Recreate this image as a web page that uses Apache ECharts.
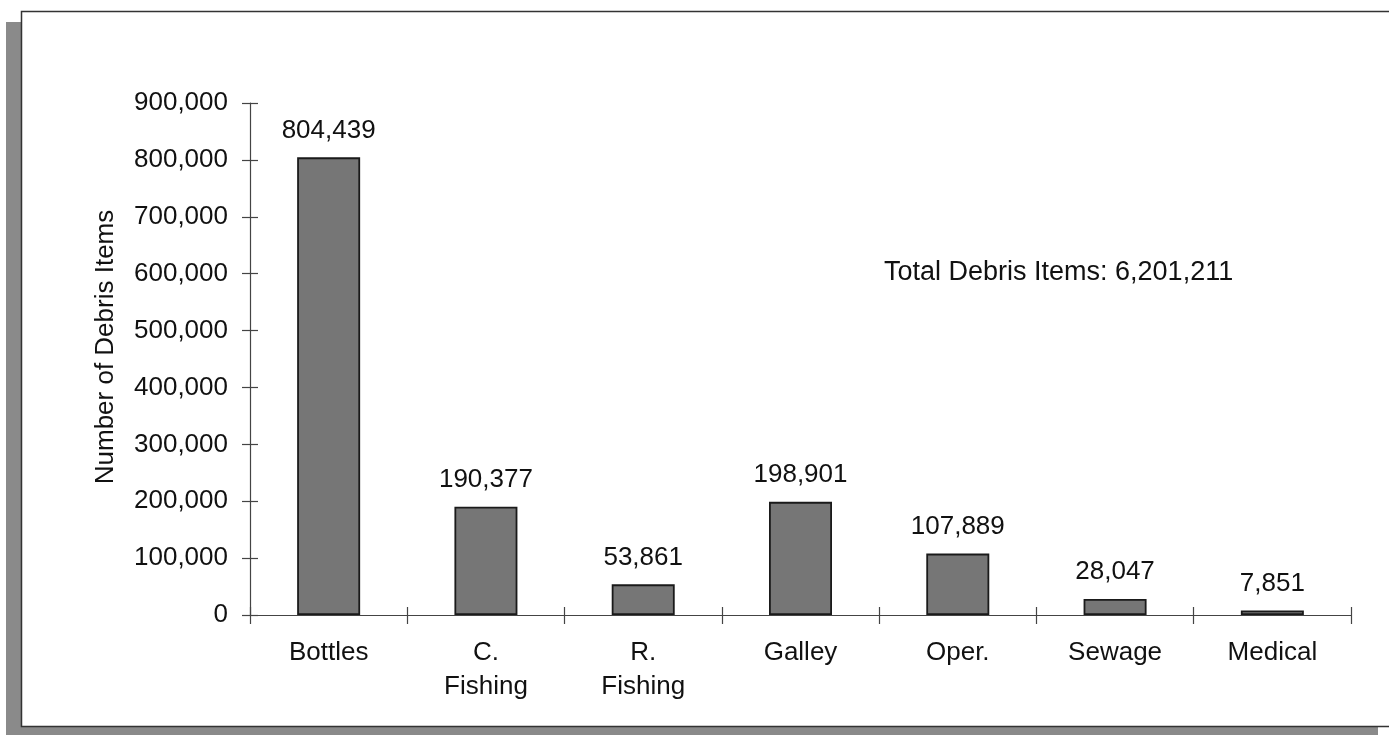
<!DOCTYPE html>
<html>
<head>
<meta charset="utf-8">
<script src="https://cdn.jsdelivr.net/npm/echarts@6/dist/echarts.min.js"></script>
<style>
html,body{margin:0;padding:0;background:#fff;}
#chart{width:1389px;height:735px;}
</style>
</head>
<body>
<div id="chart"></div>
<script>
const categories = ['Bottles', 'C.\nFishing', 'R.\nFishing', 'Galley', 'Oper.', 'Sewage', 'Medical'];
const values = [804439, 190377, 53861, 198901, 107889, 28047, 7851];
const yTicks = [0, 100000, 200000, 300000, 400000, 500000, 600000, 700000, 800000, 900000];
const totalText = 'Total Debris Items: 6,201,211';

const fmt = v => Number(v).toLocaleString('en-US');
const FONT = '"Liberation Sans", Arial, sans-serif';
const chart = echarts.init(document.getElementById('chart'));

const yBase = {
  type: 'value', min: yTicks[0], max: yTicks[yTicks.length - 1], interval: 100000,
  splitLine: { show: false }
};
const xBase = { type: 'category', data: categories, boundaryGap: true };

chart.setOption({
  animation: false,
  backgroundColor: '#fff',
  grid: { left: 250, right: 38, top: 103, bottom: 120, containLabel: false },
  graphic: [
    { type: 'rect', shape: { x: 6, y: 22, width: 15, height: 713 }, style: { fill: '#8a8a8a' }, z: -20 },
    { type: 'rect', shape: { x: 6, y: 727, width: 1372, height: 8 }, style: { fill: '#8a8a8a' }, z: -20 },
    { type: 'rect', shape: { x: 21.5, y: 11.5, width: 1380, height: 715 }, style: { fill: '#fff', stroke: '#333', lineWidth: 1.5 }, z: -10 },
    { type: 'text', left: 884, top: 259, style: { text: totalText, font: '27px ' + FONT, fill: '#111' }, z: 10 }
  ],
  xAxis: [
    Object.assign({}, xBase, {
      axisLine: { lineStyle: { color: '#444', width: 1.2 } },
      axisTick: { show: true, length: 9, lineStyle: { color: '#444', width: 1.2 } },
      axisLabel: { color: '#111', fontSize: 26, fontFamily: FONT, margin: 21, lineHeight: 34, interval: 0 }
    }),
    Object.assign({}, xBase, {
      position: 'bottom',
      axisLine: { show: false },
      axisTick: { show: true, inside: true, length: 8, lineStyle: { color: '#444', width: 1.2 } },
      axisLabel: { show: false }
    })
  ],
  yAxis: [
    Object.assign({}, yBase, {
      name: 'Number of Debris Items', nameLocation: 'middle', nameGap: 131,
      nameTextStyle: { color: '#111', fontSize: 26, fontFamily: FONT, padding: [0, 0, 0, 24] },
      axisLine: { show: true, lineStyle: { color: '#444', width: 1.2 } },
      axisTick: { show: true, length: 8, lineStyle: { color: '#444', width: 1.2 } },
      axisLabel: { color: '#111', fontSize: 26, fontFamily: FONT, margin: 22, formatter: fmt }
    }),
    Object.assign({}, yBase, {
      position: 'left',
      axisLine: { show: false },
      axisTick: { show: true, inside: true, length: 8, lineStyle: { color: '#444', width: 1.2 } },
      axisLabel: { show: false }
    })
  ],
  series: [{
    type: 'bar', data: values, xAxisIndex: 0, yAxisIndex: 0,
    barWidth: 63,
    itemStyle: { color: '#767676', borderColor: '#1a1a1a', borderWidth: 1.8 },
    label: { show: true, position: 'top', distance: 14, color: '#111', fontSize: 26, fontFamily: FONT, formatter: p => fmt(p.value) }
  }]
});
</script>
</body>
</html>
